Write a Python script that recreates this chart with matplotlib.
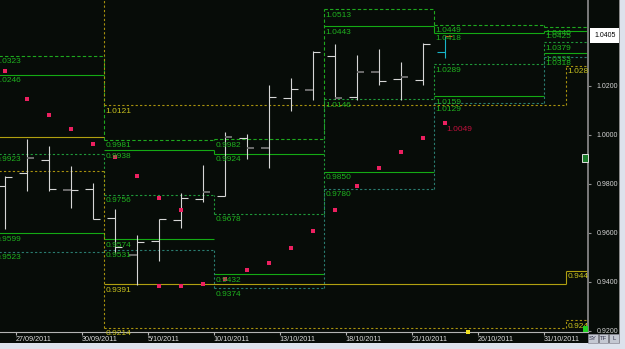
import matplotlib
matplotlib.use('Agg')
import matplotlib.pyplot as plt
from matplotlib.patches import Rectangle
from matplotlib.transforms import Bbox, TransformedBbox

# daily bars, 26/09/2011 .. 24/10/2011 (x = trading-day index)
opens = [0.9792, 0.9844, 0.9897, 0.9774, 0.9778, 0.9663, 0.9510, 0.9569, 0.9653, 0.9738,
         0.9751, 0.9987, 0.9948, 1.0150, 1.0184, 1.0322, 1.0154, 1.0258, 1.0227, 1.0223, 1.0338]
highs = [0.9833, 0.9984, 0.9955, 0.9873, 0.9806, 0.9697, 0.9592, 0.9657, 0.9762, 0.9878,
         1.0011, 1.0003, 1.0204, 1.0234, 1.0343, 1.0371, 1.0327, 1.0351, 1.0298, 1.0377, 1.0405]
lows = [0.9618, 0.9773, 0.9773, 0.9700, 0.9656, 0.9520, 0.9388, 0.9487, 0.9619, 0.9728,
        0.9751, 0.9902, 0.9864, 1.0099, 1.0143, 1.0146, 1.0143, 1.0203, 1.0143, 1.0203, 1.0316]
closes = [0.9829, 0.9905, 0.9778, 0.9774, 0.9656, 0.9543, 0.9563, 0.9657, 0.9742, 0.9767,
          0.9991, 0.9948, 1.0154, 1.0187, 1.0338, 1.0152, 1.0258, 1.0219, 1.0236, 1.0370, 1.0405]

# stop-and-reverse dots
sar_hi_days = [0, 1, 2, 3, 4, 5, 6, 7, 8]
sar_hi = [1.0262, 1.0148, 1.0080, 1.0026, 0.9964, 0.9911, 0.9831, 0.9744, 0.9693]
sar_lo_days = [7, 8, 9, 10, 11, 12, 13, 14, 15, 16, 17, 18, 19, 20]
sar_lo = [0.9382, 0.9382, 0.9392, 0.9411, 0.9448, 0.9479, 0.9537, 0.9607, 0.9695,
          0.9791, 0.9864, 0.9932, 0.9987, 1.0049]

# weekly levels (first trading day of each week)
week_first_day = [0, 5, 10, 15, 20, 25]
wk_top = [1.0323, 0.9981, 0.9982, 1.0513, 1.0449, 1.0440]
wk_hi = [1.0246, 0.9938, 0.9924, 1.0443, 1.0418, 1.0425]
wk_mid = [0.9923, 0.9756, 0.9678, 1.0146, 1.0289, 1.0379]
wk_lo = [0.9599, 0.9574, 0.9432, 0.9850, 1.0159, 1.0333]
wk_bot = [0.9523, 0.9531, 0.9374, 0.9780, 1.0129, 1.0318]

# monthly levels (Sep, Oct, Nov)
month_first_day = [-17, 5, 26]
mon_top = [1.0650, 1.0121, 1.0283]
mon_mid = [0.9992, 0.9391, 0.9445]
mon_bot = [0.9852, 0.9214, 0.9244]

tick_days = [1, 4, 7, 10, 13, 16, 19, 22, 25]
tick_text = ['27/09/2011', '30/09/2011', '5/10/2011', '10/10/2011', '13/10/2011',
             '18/10/2011', '21/10/2011', '26/10/2011', '31/10/2011']
y_ticks = [0.92, 0.94, 0.96, 0.98, 1.00, 1.02]

BG = '#070c08'
LW = 0.8
DASH = (0, (3, 2))
DOT = (0, (2, 2))
FONT = 'Liberation Sans'

fig = plt.figure(figsize=(6.25, 3.49), dpi=100, facecolor=BG)
ax = fig.add_axes([0, 17 / 349, 588 / 625, 332 / 349])
ax.set_facecolor(BG)
ax.set_xlim(-0.2136, 26.514)
ax.set_ylim(0.91959, 1.05510)

clipbox = TransformedBbox(Bbox([[0, -0.1], [1, 1]]), ax.transAxes)


def draw_levels(vals, first_days, color, ls, join_all, lab_color):
    starts = [d - 0.5 for d in first_days]
    ends = starts[1:] + [starts[-1] + 10]
    for i, v in enumerate(vals):
        ax.hlines(v, starts[i], ends[i], colors=color, linestyles=ls, lw=LW, zorder=2,
                  snap=True)
        if i > 0:
            prev = vals[i - 1]
            if join_all or abs(v - prev) < 0.01:
                ax.vlines(starts[i], min(v, prev), max(v, prev), colors=color,
                          linestyles=ls, lw=LW, zorder=2, snap=True)
        t = ax.annotate(f'{v:.4f}', (starts[i], v), xytext=(2, -2.5),
                        textcoords='offset pixels', ha='left', va='top',
                        color=lab_color, fontsize=6, family=FONT, zorder=6,
                        annotation_clip=False)
        t.set_clip_box(clipbox)
        t.set_clip_on(True)


LAB_G = '#1fb21f'
draw_levels(wk_top, week_first_day, '#1ea81e', DASH, True, LAB_G)
draw_levels(wk_hi, week_first_day, '#14aa14', '-', False, LAB_G)
draw_levels(wk_mid, week_first_day, '#1f9a3a', DOT, True, LAB_G)
draw_levels(wk_lo, week_first_day, '#14aa14', '-', False, LAB_G)
draw_levels(wk_bot, week_first_day, '#2a7c70', DOT, True, LAB_G)

LAB_Y = '#c8c21e'
draw_levels(mon_top, month_first_day, '#a8920e', DOT, True, LAB_Y)
draw_levels(mon_mid, month_first_day, '#b0a010', '-', False, LAB_Y)
draw_levels(mon_bot, month_first_day, '#a8920e', DOT, True, LAB_Y)

# OHLC bars
days = list(range(len(opens)))
dim_open = {3, 6, 12, 14, 17}
dim_close = {1, 9, 10, 11, 15, 16, 18}
last = days[-1]
for d in days:
    col = '#18b4c8' if d == last else '#d6d6d6'
    ax.vlines(d, lows[d], highs[d], colors=col, lw=LW, zorder=3, snap=True)
    oc = '#6c6c6c' if d in dim_open else col
    ax.hlines(opens[d], d - 0.35, d, colors=oc, lw=1.4 if d in dim_open else LW,
              zorder=3, snap=True)
    if d == last:
        cc = '#e8501e'
    else:
        cc = '#6c6c6c' if d in dim_close else col
    ax.hlines(closes[d], d, d + 0.35, colors=cc, lw=1.4 if d in dim_close else LW,
              zorder=3, snap=True)

ax.plot(sar_hi_days, sar_hi, 's', color='#ec2060', ms=2.4, mew=0, zorder=4)
ax.plot(sar_lo_days, sar_lo, 's', color='#ec2060', ms=2.4, mew=0, zorder=4)
ax.annotate(f'{sar_lo[-1]:.4f}', (sar_lo_days[-1], sar_lo[-1]), xytext=(2, -3),
            textcoords='offset pixels', ha='left', va='top', color='#c0103c',
            fontsize=6, family=FONT, zorder=6)

# axes styling
for s in ['top', 'left']:
    ax.spines[s].set_visible(False)
ax.spines['right'].set_color('#7c7c7c')
ax.spines['right'].set_linewidth(1.4)
ax.spines['bottom'].set_color('#b4b4b4')
ax.spines['bottom'].set_linewidth(LW)

ax.yaxis.tick_right()
ax.set_yticks(y_ticks, [f'{v:.4f}' for v in y_ticks])
ax.tick_params(axis='y', direction='out', length=2.2, width=LW, color='#909090',
               pad=3.9, labelsize=5, labelcolor='#d4d4d4')
ax.set_xticks([d - 0.5 for d in tick_days], tick_text)
ax.tick_params(axis='x', direction='out', length=2.2, width=LW, color='#b4b4b4',
               pad=0.8, labelsize=5.2, labelcolor='#dcdcdc')
for lab in ax.get_xticklabels() + ax.get_yticklabels():
    lab.set_family(FONT)
for lab in ax.get_xticklabels():
    lab.set_ha('left')

# current price tag
ax.annotate(f'{closes[-1]:.4f}', (1.0, closes[-1]), xycoords=('axes fraction', 'data'),
            xytext=(6, 0), textcoords='offset pixels', ha='left', va='center',
            color='black', fontsize=5, family=FONT, annotation_clip=False,
            bbox=dict(boxstyle='square,pad=0.55', fc='white', ec='none'), zorder=7)


def fig_rect(x0, y0, x1, y1, **kw):
    fig.add_artist(Rectangle((x0 / 625, 1 - y1 / 349), (x1 - x0) / 625, (y1 - y0) / 349,
                             transform=fig.transFigure, **kw))


# window chrome
fig_rect(620, 0, 625, 349, fc='#dde2ec', ec='none')
fig_rect(619, 0, 620, 349, fc='#8a8a8a', ec='none')
fig_rect(0, 343, 625, 349, fc='#dde2ec', ec='none')
fig_rect(582, 154, 588, 162, fc='#1a7a2a', ec='#e0e0e0', lw=0.7)
fig_rect(466, 330, 470, 334, fc='#f0e020', ec='none')
fig_rect(583, 326, 588, 332, fc='#20d020', ec='none')
for x0, x1, txt in [(588, 598, 'SY'), (599, 608, 'TF'), (609, 619, 'L')]:
    fig_rect(x0, 334, x1, 343, fc='#c4c8d2', ec='#8c8c98', lw=0.5)
    fig.text((x0 + x1) / 2 / 625, 1 - 338.7 / 349, txt, ha='center', va='center',
             fontsize=4.2, family=FONT, color='#303048')

fig.savefig('out.png', dpi=100, facecolor=BG)
